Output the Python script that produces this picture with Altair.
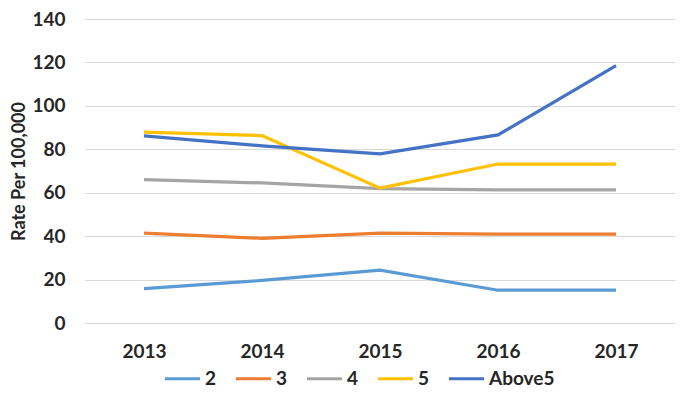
import altair as alt
import pandas as pd

years = ["2013", "2014", "2015", "2016", "2017"]
series_names = ["2", "3", "4", "5", "Above5"]
s2 = [15.8, 19.6, 24.3, 15.1, 15.1]
s3 = [41.4, 39.0, 41.4, 40.9, 40.9]
s4 = [66.0, 64.5, 61.9, 61.3, 61.3]
s5 = [87.9, 86.3, 62.1, 73.2, 73.2]
above5 = [86.2, 81.6, 77.9, 86.6, 118.5]
colors = ["#5B9BD5", "#ED7D31", "#A5A5A5", "#FFC000", "#4472C4"]

rows = []
for name, vals in zip(series_names, [s2, s3, s4, s5, above5]):
    for y, v in zip(years, vals):
        rows.append({"Year": y, "Series": name, "Rate": v})
df = pd.DataFrame(rows)

FONT = "Lato"
TXT = "#262626"

chart = alt.Chart(df).mark_line(strokeWidth=3.2).encode(
    x=alt.X("Year:N", sort=years, title=None,
            scale=alt.Scale(paddingInner=1, paddingOuter=0.5),
            axis=alt.Axis(labelAngle=0, labelFontSize=19, labelFontWeight="bold",
                          labelColor=TXT, labelFont=FONT, domain=False, ticks=False,
                          grid=False, labelPadding=19)),
    y=alt.Y("Rate:Q", title="Rate Per 100,000",
            scale=alt.Scale(domain=[0, 140], nice=False),
            axis=alt.Axis(values=[0, 20, 40, 60, 80, 100, 120, 140], labelFontSize=19,
                          labelFontWeight="bold", labelColor=TXT, labelFont=FONT,
                          domain=False, ticks=False, labelPadding=20,
                          gridColor="#D9D9D9", gridWidth=1.2,
                          titleFontSize=18, titleFontWeight="bold", titleColor=TXT,
                          titleFont=FONT, titlePadding=3)),
    color=alt.Color("Series:N", sort=series_names,
                    scale=alt.Scale(domain=series_names, range=colors),
                    legend=alt.Legend(title=None, orient="none", direction="horizontal",
                                      legendX=78, legendY=340, padding=0,
                                      symbolType="stroke", symbolSize=1225,
                                      symbolStrokeWidth=3.2, labelFontSize=19,
                                      labelFontWeight="bold", labelColor=TXT,
                                      labelFont=FONT, labelOffset=3, columnPadding=12)),
).properties(
    width=590, height=304,
    autosize=alt.AutoSizeParams(type="none"),
    padding={"left": 77, "top": 11, "right": 2, "bottom": 73},
).configure_view(stroke=None)

chart.save("out.html", embed_options={"renderer": "svg", "actions": False})
